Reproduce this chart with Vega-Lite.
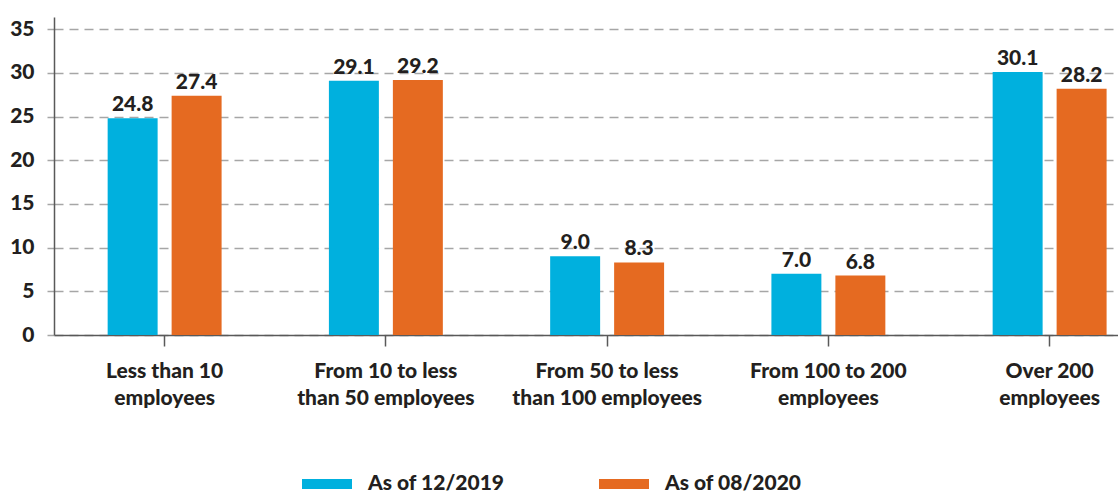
{
  "$schema": "https://vega.github.io/schema/vega-lite/v6.json",
  "autosize": "none",
  "width": 1064,
  "height": 318,
  "padding": {"left": 54, "top": 17, "right": 0, "bottom": 159},
  "config": {
    "view": {"stroke": null},
    "font": "Lato",
    "text": {"font": "Lato"}
  },
  "data": {
    "values": [
      {"size": "Less than 10|employees", "period": "As of 12/2019", "share": 24.8},
      {"size": "Less than 10|employees", "period": "As of 08/2020", "share": 27.4},
      {"size": "From 10 to less|than 50 employees", "period": "As of 12/2019", "share": 29.1},
      {"size": "From 10 to less|than 50 employees", "period": "As of 08/2020", "share": 29.2},
      {"size": "From 50 to less|than 100 employees", "period": "As of 12/2019", "share": 9.0},
      {"size": "From 50 to less|than 100 employees", "period": "As of 08/2020", "share": 8.3},
      {"size": "From 100 to 200|employees", "period": "As of 12/2019", "share": 7.0},
      {"size": "From 100 to 200|employees", "period": "As of 08/2020", "share": 6.8},
      {"size": "Over 200|employees", "period": "As of 12/2019", "share": 30.1},
      {"size": "Over 200|employees", "period": "As of 08/2020", "share": 28.2}
    ]
  },
  "encoding": {
    "x": {
      "field": "size",
      "type": "nominal",
      "sort": null,
      "scale": {"range": [0, 1106.25], "paddingInner": 0.485, "paddingOuter": 0.2425},
      "axis": {
        "title": null,
        "labelAngle": 0,
        "labelExpr": "split(datum.label, '|')",
        "labelFont": "Lato",
        "labelFontSize": 21,
        "labelFontWeight": 900,
        "labelColor": "#231f20",
        "labelLineHeight": 27,
        "labelPadding": 14,
        "labelBaseline": "top",
        "labelLimit": 300,
        "domainColor": "#595959",
        "domainWidth": 1.5,
        "tickColor": "#595959",
        "tickSize": 11,
        "tickWidth": 1.5,
        "grid": false
      }
    },
    "xOffset": {
      "field": "period",
      "type": "nominal",
      "sort": ["As of 12/2019", "As of 08/2020"],
      "scale": {"paddingInner": 0.21875, "paddingOuter": 0}
    },
    "y": {
      "field": "share",
      "type": "quantitative",
      "scale": {"domain": [0, 36.4], "nice": false},
      "axis": {
        "title": null,
        "values": [0, 5, 10, 15, 20, 25, 30, 35],
        "labelFont": "Lato",
        "labelFontSize": 21,
        "labelFontWeight": 900,
        "labelColor": "#231f20",
        "labelPadding": 13,
        "domainColor": "#595959",
        "domainWidth": 1.5,
        "tickColor": "#a6a6a6",
        "tickSize": 7,
        "tickWidth": 1.5,
        "grid": true,
        "gridColor": "#a6a6a6",
        "gridWidth": 1.5,
        "gridDash": [9, 6]
      }
    }
  },
  "layer": [
    {
      "mark": {"type": "bar"},
      "encoding": {
        "color": {
          "field": "period",
          "type": "nominal",
          "sort": ["As of 12/2019", "As of 08/2020"],
          "scale": {"domain": ["As of 12/2019", "As of 08/2020"], "range": ["#00b0de", "#e56a21"]},
          "legend": {
            "title": null,
            "orient": "none",
            "direction": "horizontal",
            "legendX": 248,
            "legendY": 442,
            "symbolType": "M-1,-0.2H1V0.2H-1Z",
            "symbolSize": 2500,
            "symbolStrokeWidth": 0,
            "symbolOpacity": 1,
            "labelFont": "Lato",
            "labelFontSize": 21,
            "labelFontWeight": 900,
            "labelColor": "#231f20",
            "labelOffset": 16,
            "labelLimit": 300,
            "columnPadding": 94
          }
        }
      }
    },
    {
      "mark": {"type": "text", "baseline": "alphabetic", "dy": -7, "font": "Lato", "fontSize": 21, "fontWeight": 900, "color": "#231f20"},
      "encoding": {
        "text": {"field": "share", "type": "quantitative", "format": ".1f"}
      }
    }
  ]
}
